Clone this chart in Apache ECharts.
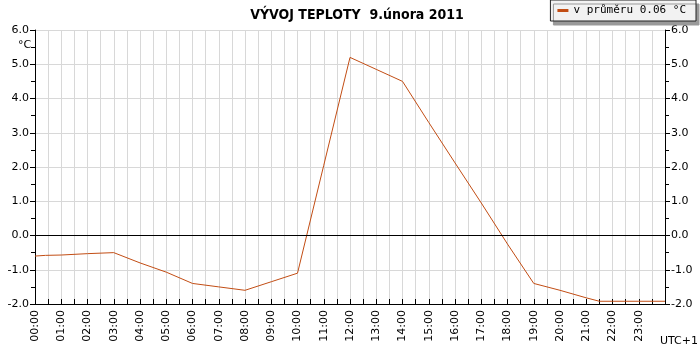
<!DOCTYPE html>
<html>
<head>
<meta charset="utf-8">
<script src="https://cdn.jsdelivr.net/npm/echarts@6/dist/echarts.min.js"></script>
<style>
  html, body { margin: 0; padding: 0; background: #fff; }
  #chart { width: 700px; height: 350px; }
</style>
</head>
<body>
<div id="chart"></div>
<script>
// hodiny dne a teplota (°C)
const hours = [0, 0.4, 1, 2, 3, 4, 5, 6, 7, 8, 9, 10, 11, 12, 13, 14, 15, 16, 17, 18, 19, 20, 21, 21.5, 22, 23, 24];
const temps = [-0.6, -0.58, -0.57, -0.53, -0.5, -0.8, -1.07, -1.4, -1.5, -1.6, -1.35, -1.1, 2.05, 5.2, 4.85, 4.5, 3.3, 2.12, 0.95, -0.25, -1.4, -1.6, -1.82, -1.92, -1.92, -1.92, -1.92];
const seriesName = "v průměru 0.06 °C";
const titleText = "VÝVOJ TEPLOTY  9.února 2011";

const chart = echarts.init(document.getElementById("chart"));

const font = "DejaVu Sans";
const pad = (v) => (v < 10 ? "0" + v : "" + v) + ":00";

const yAxisCommon = {
  type: "value",
  min: -2,
  max: 6,
  interval: 1,
  axisLine: { show: true, lineStyle: { color: "#000" } },
  axisTick: { show: true, length: 5, lineStyle: { color: "#000" } },
  minorTick: { show: true, splitNumber: 2, length: 4, lineStyle: { color: "#000" } },
  axisLabel: {
    color: "#000",
    fontFamily: font,
    fontSize: 11,
    margin: 6,
    formatter: (v) => v.toFixed(1),
  },
};

let option = {
  animation: false,
  title: {
    text: titleText,
    left: 352,
    top: 3,
    textAlign: "center",
    textStyle: { fontFamily: "DejaVu Sans Condensed", fontWeight: "bold", fontSize: 14, color: "#000" },
  },
  legend: {
    right: 4,
    top: 0,
    padding: [5, 10, 5, 7],
    backgroundColor: "#f2f2f2",
    borderColor: "#222",
    borderWidth: 1,
    shadowColor: "#999",
    shadowOffsetX: 3,
    shadowOffsetY: 4,
    shadowBlur: 0,
    itemWidth: 11,
    itemHeight: 3,
    itemGap: 6,
    icon: "rect",
    textStyle: { fontFamily: "DejaVu Sans Mono", fontSize: 11, color: "#000" },
    data: [seriesName],
  },
  grid: { left: 35, right: 35, top: 30, bottom: 46 },
  xAxis: {
    type: "value",
    min: 0,
    max: 24,
    interval: 0.5,
    axisLine: { onZero: false, lineStyle: { color: "#000" } },
    axisTick: { inside: true, length: 5, lineStyle: { color: "#000" } },
    splitLine: { show: true, lineStyle: { color: "#d8d8d8" } },
    axisLabel: {
      rotate: 90,
      margin: 6,
      color: "#000",
      fontFamily: font,
      fontSize: 11,
      showMaxLabel: false,
      formatter: (v) => (v % 1 === 0 && v < 24 ? pad(v) : ""),
    },
  },
  yAxis: [
    Object.assign({}, yAxisCommon, {
      position: "left",
      splitLine: { show: true, lineStyle: { color: "#d8d8d8" } },
    }),
    Object.assign({}, yAxisCommon, {
      position: "right",
      splitLine: { show: false },
    }),
  ],
  graphic: [
    { type: "text", left: 18, top: 40, style: { text: "°C", font: "11px DejaVu Sans", fill: "#000" } },
    { type: "text", right: 2, bottom: 3, style: { text: "UTC+1", font: "11px DejaVu Sans", fill: "#000" } },
  ],
  series: [
    {
      name: seriesName,
      type: "line",
      data: hours.map((h, i) => [h, temps[i]]),
      symbol: "none",
      lineStyle: { color: "#c24d14", width: 1 },
      itemStyle: { color: "#c24d14" },
      markLine: {
        silent: true,
        symbol: "none",
        label: { show: false },
        lineStyle: { color: "#000", width: 1, type: "solid" },
        data: [{ yAxis: 0 }],
      },
    },
  ],
};

chart.setOption(option);
</script>
</body>
</html>
